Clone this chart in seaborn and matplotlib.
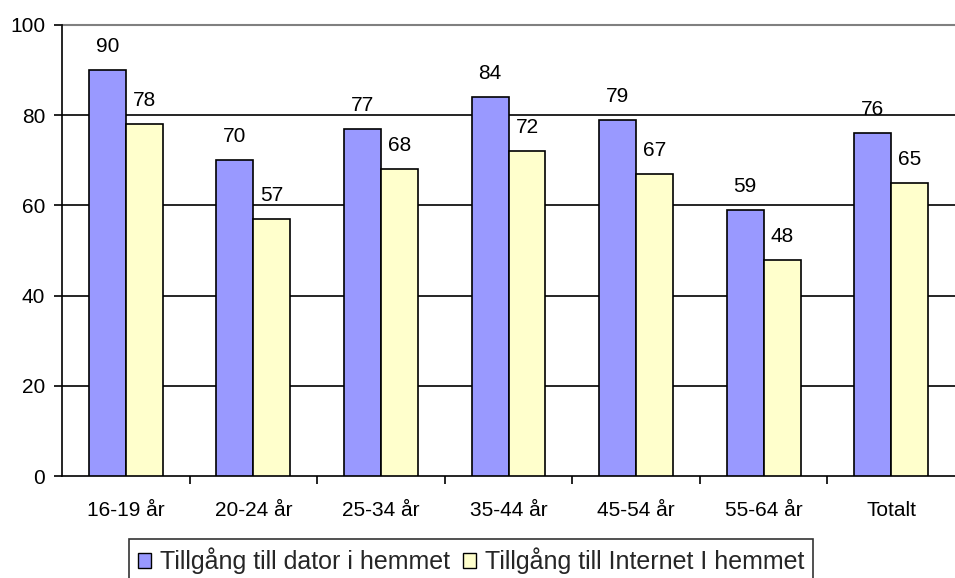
import matplotlib
matplotlib.use("Agg")
import matplotlib.pyplot as plt
import seaborn as sns
import pandas as pd
from matplotlib.patches import Patch

categories = ["16-19 år", "20-24 år", "25-34 år", "35-44 år", "45-54 år", "55-64 år", "Totalt"]
dator = [90, 70, 77, 84, 79, 59, 76]
internet = [78, 57, 68, 72, 67, 48, 65]
series_names = ["Tillgång till dator i hemmet", "Tillgång till Internet I hemmet"]
colors = ["#9999FF", "#FFFFCC"]

df = pd.DataFrame({
    "cat": categories * 2,
    "val": dator + internet,
    "serie": [series_names[0]] * len(categories) + [series_names[1]] * len(categories),
})

sns.set_theme(style="white")
plt.rcParams["font.family"] = ["Liberation Sans", "DejaVu Sans"]

fig = plt.figure(figsize=(9.55, 5.78), dpi=100)
ax = fig.add_axes([62 / 955, 1 - 476 / 578, (955 - 62) / 955, (476 - 25) / 578])

sns.barplot(data=df, x="cat", y="val", hue="serie", palette=colors, width=0.58,
            edgecolor="black", linewidth=1.2, ax=ax, legend=False, saturation=1, zorder=3)

for cont in ax.containers:
    ax.bar_label(cont, labels=[f"{v:.0f}" for v in cont.datavalues], padding=10, fontsize=15, color="black")

ax.set_ylim(0, 100)
ax.set_xlim(-0.5, len(categories) - 0.5)
ax.set_yticks([0, 20, 40, 60, 80, 100])
ax.set_xticks(range(len(categories)))
ax.set_xticklabels(categories)
ax.set_xlabel("")
ax.set_ylabel("")
ax.tick_params(which="both", bottom=True, left=True)
ax.tick_params(axis="both", labelsize=15, colors="black")
ax.tick_params(axis="x", which="major", length=0, pad=18)
ax.tick_params(axis="y", which="major", length=6, width=1.2, direction="out", pad=6)
for y in [20, 40, 60, 80]:
    ax.axhline(y, color="black", lw=1.2, zorder=1)
ax.axhline(100, color="#808080", lw=1.5, zorder=1, clip_on=False)
# Excel-style tick marks at category boundaries
ax.set_xticks([i + 0.5 for i in range(len(categories) - 1)], minor=True)
ax.tick_params(axis="x", which="minor", length=6, width=1.2, color="black", direction="out")

for s in ["top", "right"]:
    ax.spines[s].set_visible(False)
for s in ["left", "bottom"]:
    ax.spines[s].set_color("black")
    ax.spines[s].set_linewidth(1.2)

handles = [Patch(facecolor=c, edgecolor="black", linewidth=1) for c in colors]
leg = fig.legend(handles, series_names, loc="upper center", bbox_to_anchor=(471 / 955, 1 - 539 / 578), ncol=2,
                 fontsize=18, frameon=True, fancybox=False, edgecolor="black",
                 handlelength=0.55, handleheight=0.55, handletextpad=0.35, columnspacing=0.5,
                 borderpad=0.35, borderaxespad=0)
leg.get_frame().set_linewidth(1.2)

fig.savefig("out.png", dpi=100)
